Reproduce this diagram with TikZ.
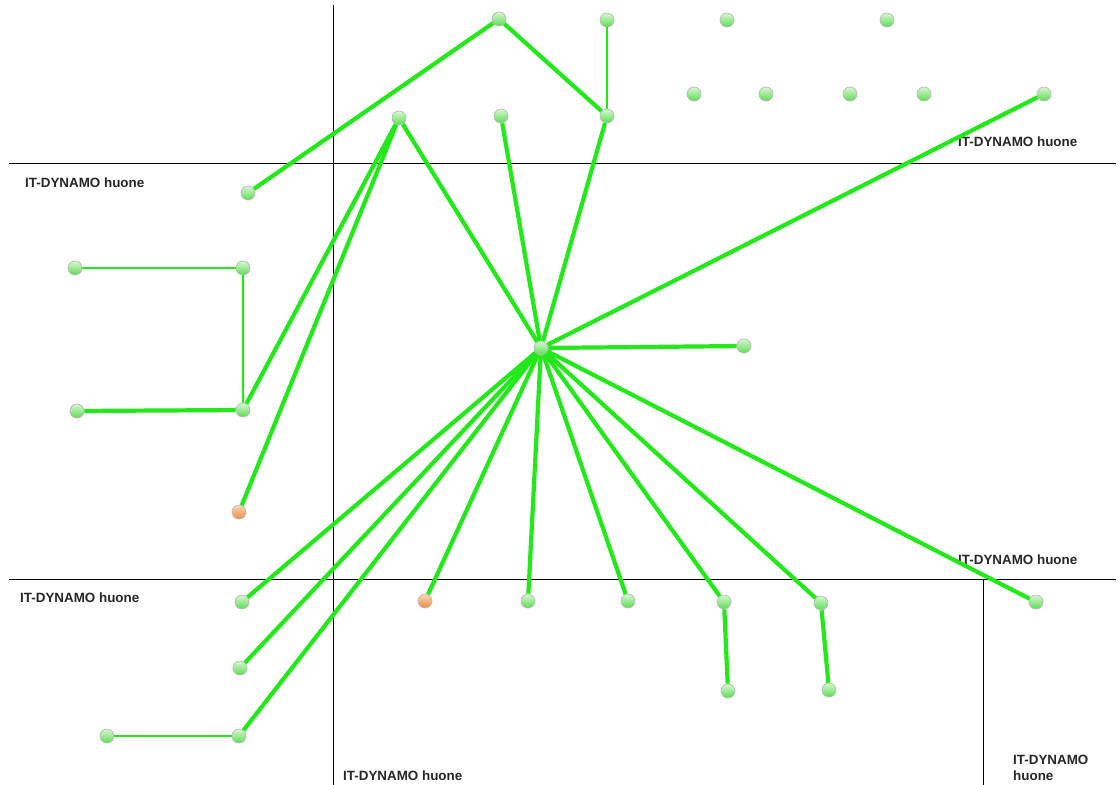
\documentclass[tikz,border=0pt]{standalone}
\usepackage{fontspec}
\setmainfont{Liberation Sans}
\begin{document}
\begin{tikzpicture}[x=1pt,y=-1pt,
  dev/.style={circle,minimum size=14pt,inner sep=0pt,draw=gray!55,line width=0.7pt,top color={rgb,255:red,215;green,248;blue,210},bottom color={rgb,255:red,90;green,220;blue,80}},
  devo/.style={dev,top color={rgb,255:red,252;green,215;blue,180},bottom color={rgb,255:red,238;green,140;blue,70}},
  link/.style={draw={rgb,255:red,35;green,232;blue,25},line width=4.2pt},
  thin/.style={draw={rgb,255:red,35;green,232;blue,25},line width=2.8pt},
  wall/.style={draw=black,line width=1pt},
  room/.style={font=\bfseries\fontsize{13.4}{15.5}\selectfont,text=black!85,inner sep=0pt,anchor=west,align=left}]
\useasboundingbox[fill=white] (0,0) rectangle (1120,785);
% walls
\coordinate (w1a) at (333,5); \coordinate (w1b) at (333,785);
\coordinate (w2a) at (9,163); \coordinate (w2b) at (1116,163);
\coordinate (w3a) at (9,579); \coordinate (w3b) at (1116,579);
\coordinate (w4a) at (983,579); \coordinate (w4b) at (983,785);
\draw[wall] (w1a) -- (w1b);
\draw[wall] (w2a) -- (w2b);
\draw[wall] (w3a) -- (w3b);
\draw[wall] (w4a) -- (w4b);
% labels
\node[room] (l1) at (25,183) {IT-DYNAMO huone};
\node[room] (l2) at (958,142) {IT-DYNAMO huone};
\node[room] (l3) at (958,560) {IT-DYNAMO huone};
\node[room] (l4) at (20,598) {IT-DYNAMO huone};
\node[room] (l5) at (343,776) {IT-DYNAMO huone};
\node[room,align=left] (l6) at (1013,768) {IT-DYNAMO\\huone};
% devices
\node[dev] (H) at (541,348) {};
\node[dev] (T1) at (499,19) {};
\node[dev] (T2) at (607,20) {};
\node[dev] (T3) at (727,20) {};
\node[dev] (T4) at (887,20) {};
\node[dev] (R1) at (694,94) {};
\node[dev] (R2) at (766,94) {};
\node[dev] (R3) at (850,94) {};
\node[dev] (R4) at (924,94) {};
\node[dev] (A) at (399,118) {};
\node[dev] (B) at (501,116) {};
\node[dev] (C) at (607,116) {};
\node[dev] (D) at (1044,94) {};
\node[dev] (E) at (248,193) {};
\node[dev] (F1) at (75,268) {};
\node[dev] (F2) at (243,268) {};
\node[dev] (G1) at (77,411) {};
\node[dev] (G2) at (243,410) {};
\node[devo] (O1) at (239,512) {};
\node[dev] (P) at (744,346) {};
\node[dev] (S1) at (242,602) {};
\node[dev] (S2) at (240,668) {};
\node[dev] (S3) at (239,736) {};
\node[dev] (S4) at (107,736) {};
\node[devo] (S5) at (425,601) {};
\node[dev] (S6) at (528,601) {};
\node[dev] (S7) at (628,601) {};
\node[dev] (S8) at (724,602) {};
\node[dev] (S9) at (821,603) {};
\node[dev] (S10) at (1036,602) {};
\node[dev] (S11) at (728,691) {};
\node[dev] (S12) at (829,690) {};
% links
\draw[link] (T1) -- (E);
\draw[link] (T1) -- (C);
\draw[thin] (T2) -- (C);
\draw[link] (A) -- (G2);
\draw[link] (A) -- (O1);
\draw[link] (A) -- (H);
\draw[link] (B) -- (H);
\draw[link] (C) -- (H);
\draw[link] (D) -- (H);
\draw[thin] (F1) -- (F2);
\draw[thin] (F2) -- (G2);
\draw[link] (G1) -- (G2);
\draw[link] (H) -- (P);
\draw[link] (H) -- (S1);
\draw[link] (H) -- (S2);
\draw[link] (H) -- (S3);
\draw[thin] (S4) -- (S3);
\draw[link] (H) -- (S5);
\draw[link] (H) -- (S6);
\draw[link] (H) -- (S7);
\draw[link] (H) -- (S8);
\draw[link] (H) -- (S9);
\draw[link] (H) -- (S10);
\draw[link] (S8) -- (S11);
\draw[link] (S9) -- (S12);
\end{tikzpicture}
\end{document}
